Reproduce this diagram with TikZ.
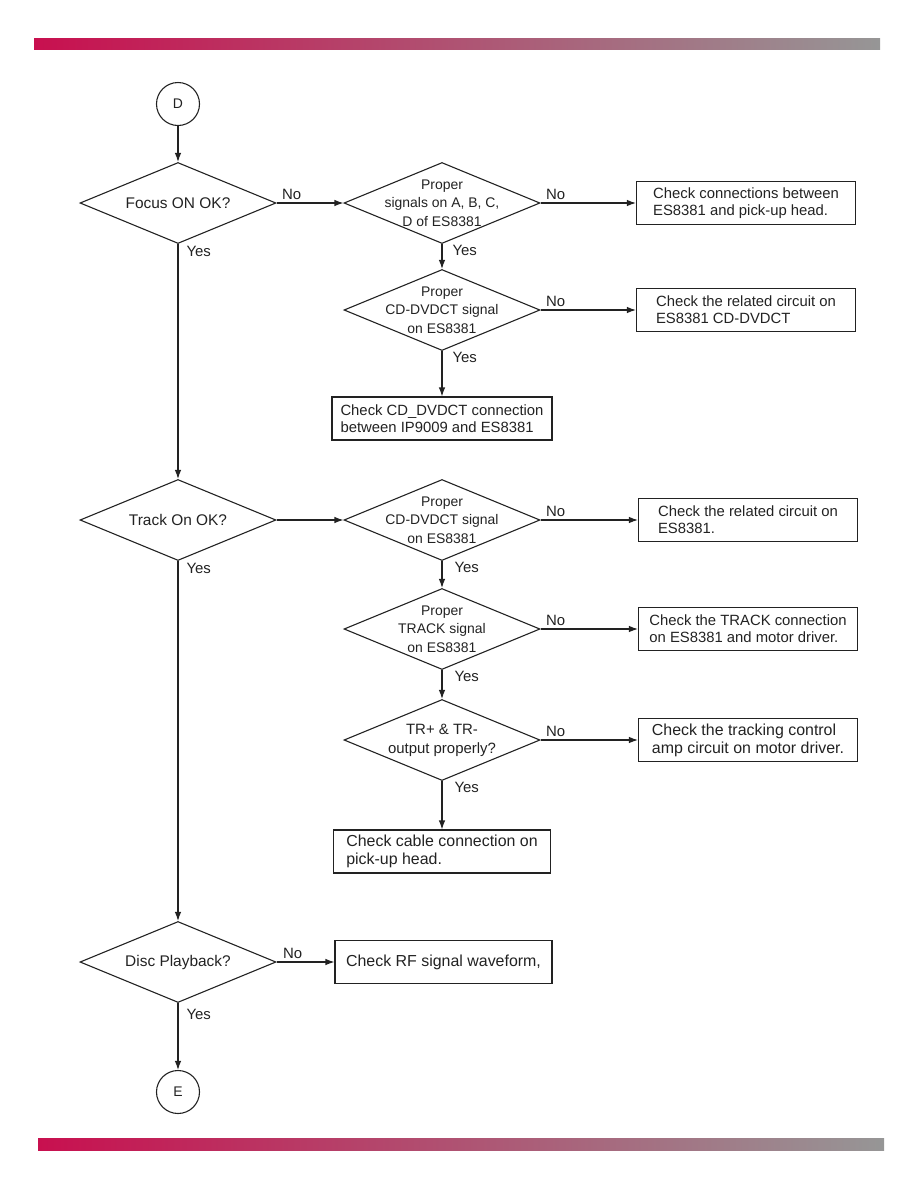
\documentclass[tikz,border=0pt]{standalone}
\usepackage{fontspec}
\setmainfont{Liberation Sans}
\usetikzlibrary{arrows.meta,shapes.geometric}
\definecolor{barred}{HTML}{C8104F}
\definecolor{bargrey}{HTML}{969696}
\definecolor{ink}{HTML}{222222}

\begin{document}
\begin{tikzpicture}[x=1bp,y=-1bp,line width=1.1bp,ink,
  dec/.style={draw,diamond,minimum width=196bp,minimum height=81bp,inner sep=0pt},
  dtxt/.style={align=center,font=\fontsize{14}{18.5}\selectfont},
  mtxt/.style={font=\fontsize{15.5}{18}\selectfont},
  box/.style={draw,rectangle,minimum width=219bp,minimum height=43bp,inner xsep=4bp,align=left,font=\fontsize{14.9}{17}\selectfont},
  bigbox/.style={font=\fontsize{16}{18}\selectfont},
  conn/.style={draw,circle,minimum size=43bp,inner sep=0pt,font=\fontsize{14}{16}\selectfont},
  lbl/.style={font=\fontsize{15}{17}\selectfont,inner sep=0pt},
  arr/.style={-{Latex[length=9bp,width=6.5bp]}}]
  \useasboundingbox (0,0) rectangle (918,1188);
  \shade[left color=barred,right color=bargrey] (34,38) rectangle (880,49);
  \shade[left color=barred,right color=bargrey] (38,1138) rectangle (884,1150);

  % left column
  \node[conn] (D) at (178,104) {D};
  \node[dec,label={[mtxt]center:Focus ON OK?}] (focus) at (178,203) {};
  \node[dec,label={[mtxt]center:Track On OK?}] (track) at (178,520) {};
  \node[dec,label={[mtxt]center:Disc Playback?}] (disc) at (178,962) {};
  \node[conn] (E) at (178,1092) {E};

  % focus checks
  \node[dec,label={[dtxt]center:{Proper\\signals on A, B, C,\\D of ES8381}}] (sigs) at (442,203) {};
  \node[box] (chkhead) at (746,203) {Check connections between\\ES8381 and pick-up head.};
  \node[dec,label={[dtxt]center:{Proper\\CD-DVDCT signal\\on ES8381}}] (dvd1) at (442,310) {};
  \node[box] (chkdvd1) at (746,310) {Check the related circuit on\\ES8381 CD-DVDCT};
  \node[box,minimum width=220bp] (chkip) at (442,418.5) {Check CD\_DVDCT connection\\between IP9009 and ES8381};

  % track checks
  \node[dec,label={[dtxt]center:{Proper\\CD-DVDCT signal\\on ES8381}}] (dvd2) at (442,520) {};
  \node[box] (chkdvd2) at (748,520) {Check the related circuit on\\ES8381.};
  \node[dec,label={[dtxt]center:{Proper\\TRACK signal\\on ES8381}}] (trk) at (442,629) {};
  \node[box] (chktrk) at (748,629) {Check the TRACK connection\\on ES8381 and motor driver.};
  \node[dec,label={[dtxt,font=\fontsize{15}{19}\selectfont]center:{TR+ \& TR-\\output properly?}}] (trout) at (442,740) {};
  \node[box,bigbox] (chkamp) at (748,740) {Check the tracking control\\amp circuit on motor driver.};
  \node[box,bigbox,minimum width=217bp] (chkcable) at (442,851.5) {Check cable connection on\\pick-up head.};

  % playback
  \node[box,bigbox,minimum width=217bp] (chkrf) at (443.5,962) {Check RF signal waveform,};

  % connectors
  \draw[arr] (D) -- (focus);
  \draw[arr] (focus.east) -- node[lbl,pos=0,anchor=south west,xshift=5bp,yshift=3bp]{No} (sigs.west);
  \draw[arr] (focus.south) -- node[lbl,pos=0,anchor=north west,xshift=8bp,yshift=-2bp]{Yes} (track.north);
  \draw[arr] (sigs.east) -- node[lbl,pos=0,anchor=south west,xshift=5bp,yshift=3bp]{No} (chkhead.west);
  \draw[arr] (sigs.south) -- node[lbl,pos=0,anchor=north west,xshift=10bp,yshift=-1bp]{Yes} (dvd1.north);
  \draw[arr] (dvd1.east) -- node[lbl,pos=0,anchor=south west,xshift=5bp,yshift=3bp]{No} (chkdvd1.west);
  \draw[arr] (dvd1.south) -- node[lbl,pos=0,anchor=north west,xshift=10bp,yshift=-1bp]{Yes} (chkip.north);
  \draw[arr] (track.east) -- (dvd2.west);
  \draw[arr] (track.south) -- node[lbl,pos=0,anchor=north west,xshift=8bp,yshift=-2bp]{Yes} (disc.north);
  \draw[arr] (dvd2.east) -- node[lbl,pos=0,anchor=south west,xshift=5bp,yshift=3bp]{No} (chkdvd2.west);
  \draw[arr] (dvd2.south) -- node[lbl,pos=0,anchor=north west,xshift=12bp,yshift=-1bp]{Yes} (trk.north);
  \draw[arr] (trk.east) -- node[lbl,pos=0,anchor=south west,xshift=5bp,yshift=3bp]{No} (chktrk.west);
  \draw[arr] (trk.south) -- node[lbl,pos=0,anchor=north west,xshift=12bp,yshift=-1bp]{Yes} (trout.north);
  \draw[arr] (trout.east) -- node[lbl,pos=0,anchor=south west,xshift=5bp,yshift=3bp]{No} (chkamp.west);
  \draw[arr] (trout.south) -- node[lbl,pos=0,anchor=north west,xshift=12bp,yshift=-1bp]{Yes} (chkcable.north);
  \draw[arr] (disc.east) -- node[lbl,pos=0,anchor=south west,xshift=6bp,yshift=3bp]{No} (chkrf.west);
  \draw[arr] (disc.south) -- node[lbl,pos=0,anchor=north west,xshift=8bp,yshift=-6bp]{Yes} (E);
\end{tikzpicture}
\end{document}
